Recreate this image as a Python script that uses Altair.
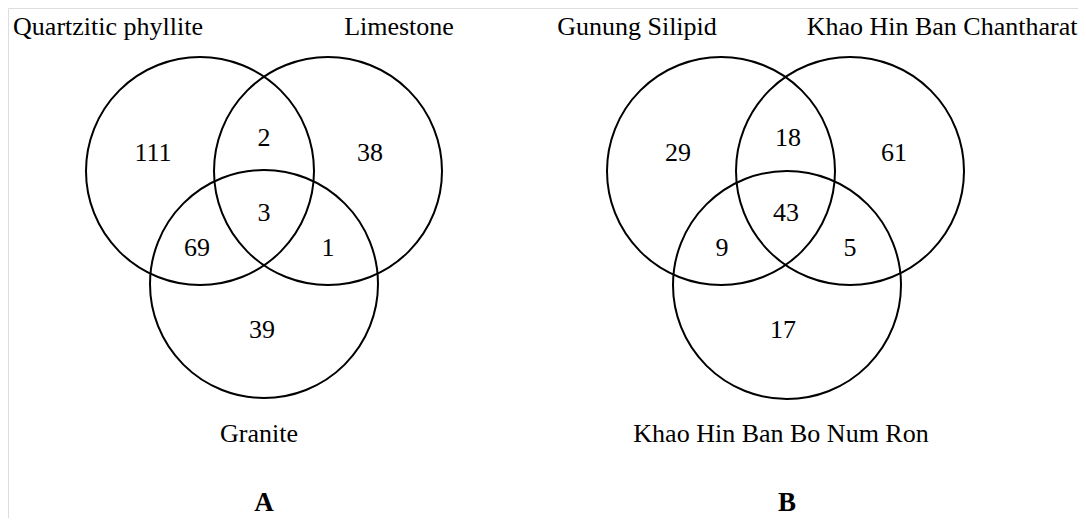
import altair as alt
import pandas as pd

# ---- data ----
panels = ["A", "B"]
set_names_a = ["Quartzitic phyllite", "Limestone", "Granite"]
set_names_b = ["Gunung Silipid", "Khao Hin Ban Chantharat", "Khao Hin Ban Bo Num Ron"]
# region order: only1, only2, only3, 1&2, 1&3, 2&3, 1&2&3
region_keys = ["1", "2", "3", "12", "13", "23", "123"]
counts_a = [111, 38, 39, 2, 69, 1, 3]
counts_b = [29, 61, 17, 18, 9, 5, 43]

# ---- layout (page pixel coordinates) ----
circle_xy = {
    "A": [(200, 171), (328, 171), (264, 284)],
    "B": [(721, 171), (850, 171), (787, 285)],
}
circle_radius = 114
region_xy = {
    "A": [(153, 153), (370, 153), (262, 330), (264, 138), (197, 248), (328, 248), (264, 213)],
    "B": [(678, 153), (894, 153), (783, 330), (788, 138), (722, 248), (850, 248), (786, 213)],
}
set_label_xy = {
    "A": [(108, 27), (399, 27), (259, 434)],
    "B": [(637, 27), (942, 27), (781, 434)],
}
panel_label_xy = {"A": (264, 511), "B": (787, 511)}

set_names = {"A": set_names_a, "B": set_names_b}
counts = {"A": counts_a, "B": counts_b}

circ_rows, reg_rows, lab_rows, pan_rows = [], [], [], []
for p in panels:
    for i, (x, y) in enumerate(circle_xy[p]):
        circ_rows.append({"panel": p, "set": set_names[p][i], "x": x, "y": y})
        lx, ly = set_label_xy[p][i]
        lab_rows.append({"panel": p, "label": set_names[p][i], "x": lx, "y": ly})
    for k, c, (x, y) in zip(region_keys, counts[p], region_xy[p]):
        reg_rows.append({"panel": p, "region": k, "count": str(c), "x": x, "y": y})
    px, py = panel_label_xy[p]
    pan_rows.append({"panel": p, "x": px, "y": py})

xs = alt.Scale(domain=[8, 1078], range=[0, 1070], nice=False, zero=False)
ys = alt.Scale(domain=[8, 518], range=[0, 510], nice=False, zero=False)
X = lambda: alt.X("x:Q", scale=xs, axis=None)
Y = lambda: alt.Y("y:Q", scale=ys, axis=None)

FONT = "Liberation Serif"

circles = alt.Chart(pd.DataFrame(circ_rows)).mark_point(
    shape="circle", filled=False, stroke="black", strokeWidth=2, opacity=1
).encode(x=X(), y=Y(), size=alt.value((2 * circle_radius) ** 2))

regions = alt.Chart(pd.DataFrame(reg_rows)).mark_text(
    font=FONT, fontSize=26, color="black", align="center", baseline="middle"
).encode(x=X(), y=Y(), text="count:N")

labels = alt.Chart(pd.DataFrame(lab_rows)).mark_text(
    font=FONT, fontSize=26, color="black", align="center", baseline="middle"
).encode(x=X(), y=Y(), text="label:N")

panel_labels = alt.Chart(pd.DataFrame(pan_rows)).mark_text(
    font=FONT, fontSize=27, fontWeight="bold", color="black", align="center", baseline="alphabetic"
).encode(x=X(), y=Y(), text="panel:N")

chart = alt.layer(circles, regions, labels, panel_labels).properties(
    width=1070, height=510, padding=0, autosize=alt.AutoSizeParams(type="none")
).configure_view(stroke=None).configure(background="white")

chart.save("out.html", embed_options={"renderer": "svg", "actions": False})
